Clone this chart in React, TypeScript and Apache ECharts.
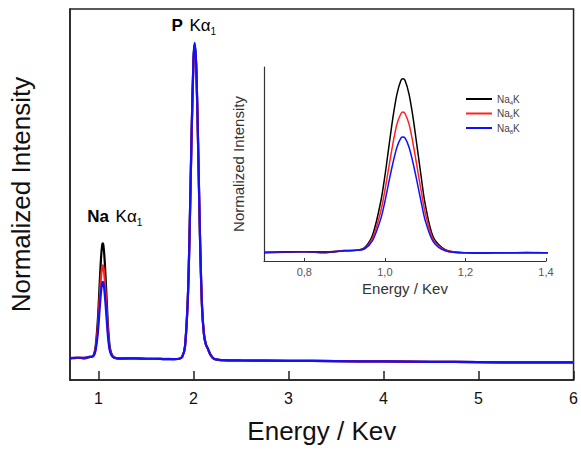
import React, { useEffect, useRef } from "react";
import * as echarts from "echarts";

// Energy axis (keV), shared by all three spectra
const energy = [
  0.7, 0.75, 0.8, 0.85, 0.88, 0.9, 0.93, 0.95, 0.97, 0.99, 1.0, 1.01, 1.02, 1.03, 1.04, 1.045,
  1.05, 1.06, 1.07, 1.08, 1.09, 1.1, 1.12, 1.15, 1.2, 1.25, 1.3, 1.35, 1.4, 1.5, 1.6, 1.7, 1.8,
  1.85, 1.88, 1.91, 1.94, 1.96, 1.98, 2.0, 2.013, 2.03, 2.05, 2.07, 2.09, 2.11, 2.13, 2.15, 2.18,
  2.22, 2.3, 2.5, 3.0, 3.5, 4.0, 4.5, 5.0, 5.5, 6.0,
];

const na4k = [
  0.064, 0.065, 0.066, 0.064, 0.066, 0.068, 0.069, 0.0745, 0.1, 0.165, 0.214, 0.272, 0.329, 0.375, 0.402, 0.405,
  0.402, 0.375, 0.329, 0.272, 0.214, 0.16, 0.095, 0.07, 0.064, 0.063, 0.064, 0.064, 0.064, 0.063, 0.063, 0.062, 0.062,
  0.063, 0.068, 0.098, 0.241, 0.453, 0.73, 0.95, 0.995, 0.919, 0.674, 0.402, 0.215, 0.135, 0.105, 0.093, 0.074,
  0.062, 0.059, 0.058, 0.057, 0.056, 0.055, 0.054, 0.053, 0.052, 0.052,
];

const na6k = [
  0.065, 0.066, 0.066, 0.066, 0.067, 0.069, 0.069, 0.073, 0.094, 0.146, 0.186, 0.232, 0.278, 0.316, 0.337, 0.34,
  0.337, 0.316, 0.278, 0.232, 0.186, 0.143, 0.09, 0.069, 0.064, 0.064, 0.063, 0.065, 0.064, 0.063, 0.063, 0.063, 0.062,
  0.063, 0.068, 0.098, 0.24, 0.45, 0.726, 0.945, 0.99, 0.915, 0.672, 0.4, 0.214, 0.135, 0.105, 0.093, 0.074,
  0.062, 0.059, 0.058, 0.057, 0.056, 0.055, 0.054, 0.053, 0.052, 0.052,
];

const na8k = [
  0.065, 0.066, 0.066, 0.066, 0.067, 0.068, 0.069, 0.072, 0.089, 0.131, 0.164, 0.203, 0.24, 0.271, 0.289, 0.291,
  0.289, 0.271, 0.24, 0.203, 0.164, 0.128, 0.086, 0.068, 0.064, 0.064, 0.064, 0.064, 0.064, 0.063, 0.063, 0.062, 0.062,
  0.063, 0.068, 0.099, 0.242, 0.455, 0.732, 0.955, 1.0, 0.922, 0.676, 0.403, 0.216, 0.136, 0.106, 0.094, 0.075,
  0.062, 0.059, 0.058, 0.057, 0.056, 0.055, 0.054, 0.053, 0.052, 0.052,
];

const seriesNames = ["Na4K", "Na6K", "Na8K"];
const seriesSubs = ["4", "6", "8"];
const seriesColors = ["#000000", "#ff2020", "#1010ff"];
const seriesValues = [na4k, na6k, na8k];

const mainTicks = [1, 2, 3, 4, 5, 6];
const insetTicks = [0.8, 1.0, 1.2, 1.4];

const FONT = "'Liberation Sans', Arial, sans-serif";

export default function App() {
  const ref = useRef<HTMLDivElement>(null);

  useEffect(() => {
    if (!ref.current) return;
    document.body.style.margin = "0";
    const chart = echarts.init(ref.current, undefined, { renderer: "svg" });

    const series: any[] = [];
    seriesValues.forEach((vals, i) => {
      const data = energy.map((e, j) => [e, vals[j]]);
      series.push({
        type: "line",
        name: seriesNames[i],
        xAxisIndex: 0,
        yAxisIndex: 0,
        data,
        showSymbol: false,
        symbol: "none",
        lineStyle: { color: seriesColors[i], width: 2.2 },
        itemStyle: { color: seriesColors[i] },
        smooth: 0.3,
      });
      series.push({
        type: "line",
        name: seriesNames[i],
        xAxisIndex: 1,
        yAxisIndex: 1,
        data,
        showSymbol: false,
        symbol: "none",
        lineStyle: { color: seriesColors[i], width: 1.5 },
        itemStyle: { color: seriesColors[i] },
        smooth: 0.3,
        clip: true,
      });
    });

    const option: any = {
      animation: false,
      textStyle: { fontFamily: FONT },
      grid: [
        { left: 70, right: 6, top: 9, bottom: 70, show: true, borderColor: "#222", borderWidth: 1.5 },
        { left: 264, right: 35, top: 67, bottom: 189 },
      ],
      legend: {
        data: seriesNames,
        left: 461,
        top: 89,
        orient: "vertical",
        itemGap: 3,
        itemWidth: 26,
        itemHeight: 2,
        icon: "rect",
        formatter: (name: string) => {
          const i = seriesNames.indexOf(name);
          return "{n|Na}{s|" + seriesSubs[i] + "}{n|K}";
        },
        textStyle: {
          fontFamily: FONT,
          color: "#444",
          rich: {
            n: { fontSize: 10, color: "#444", fontFamily: FONT, lineHeight: 13 },
            s: { fontSize: 6, color: "#444", fontFamily: FONT, verticalAlign: "bottom", lineHeight: 8 },
          },
        },
      },
      xAxis: [
        {
          type: "value",
          gridIndex: 0,
          min: 0.7,
          max: 6,
          name: "Energy / Kev",
          nameLocation: "middle",
          nameGap: 38,
          nameTextStyle: { fontSize: 26, color: "#111", fontFamily: FONT },
          axisLine: { show: true, lineStyle: { color: "#222", width: 1.5 } },
          axisTick: { show: true, inside: true, length: 9, customValues: mainTicks, lineStyle: { color: "#222", width: 1.5 } },
          axisLabel: { customValues: mainTicks, fontSize: 16, color: "#111", margin: 10, fontFamily: FONT },
          splitLine: { show: false },
        },
        {
          type: "value",
          gridIndex: 1,
          min: 0.7,
          max: 1.4,
          name: "Energy / Kev",
          nameLocation: "middle",
          nameGap: 20,
          nameTextStyle: { fontSize: 15, color: "#333", fontFamily: FONT },
          axisLine: { show: true, lineStyle: { color: "#333", width: 1.2 } },
          axisTick: { show: true, inside: true, length: 3, customValues: insetTicks, lineStyle: { color: "#333" } },
          axisLabel: {
            customValues: insetTicks,
            fontSize: 11,
            color: "#555",
            margin: 5,
            fontFamily: FONT,
            formatter: (v: number) => v.toFixed(1).replace(".", ","),
          },
          splitLine: { show: false },
        },
      ],
      yAxis: [
        {
          type: "value",
          gridIndex: 0,
          min: 0,
          max: 1.1,
          name: "Normalized Intensity",
          nameLocation: "middle",
          nameGap: 36,
          nameTextStyle: { fontSize: 26, color: "#111", fontFamily: FONT },
          axisLine: { show: true, lineStyle: { color: "#222", width: 1.5 } },
          axisTick: { show: false },
          axisLabel: { show: false },
          splitLine: { show: false },
        },
        {
          type: "value",
          gridIndex: 1,
          min: 0.048,
          max: 0.428,
          name: "Normalized Intensity",
          nameLocation: "middle",
          nameGap: 18,
          nameTextStyle: { fontSize: 15, color: "#333", fontFamily: FONT },
          axisLine: { show: true, lineStyle: { color: "#333", width: 1.2 } },
          axisTick: { show: false },
          axisLabel: { show: false },
          splitLine: { show: false },
        },
      ],
      series,
    };

    chart.setOption(option);

    const naPos = chart.convertToPixel({ xAxisIndex: 0, yAxisIndex: 0 }, [1.045, 0.405]) as number[];
    const pPos = chart.convertToPixel({ xAxisIndex: 0, yAxisIndex: 0 }, [2.013, 1.0]) as number[];
    const rich = {
      b: { fontSize: 17, fontWeight: "bold", color: "#111", fontFamily: FONT, lineHeight: 22 },
      r: { fontSize: 17, color: "#111", fontFamily: FONT, lineHeight: 22 },
      s: { fontSize: 10, color: "#111", fontFamily: FONT, verticalAlign: "bottom", lineHeight: 10 },
    };
    chart.setOption({
      graphic: [
        {
          type: "text",
          x: naPos[0] + 12,
          y: naPos[1] - 16,
          style: {
            text: "{b|Na}  {r|Kα}{s|1}",
            rich,
            align: "center",
            verticalAlign: "bottom",
          },
        },
        {
          type: "text",
          x: pPos[0] - 1,
          y: pPos[1] - 6,
          style: {
            text: "{b|P}  {r|Kα}{s|1}",
            rich,
            align: "center",
            verticalAlign: "bottom",
          },
        },
      ],
    });

    return () => chart.dispose();
  }, []);

  return <div ref={ref} style={{ width: 581, height: 450 }} />;
}
